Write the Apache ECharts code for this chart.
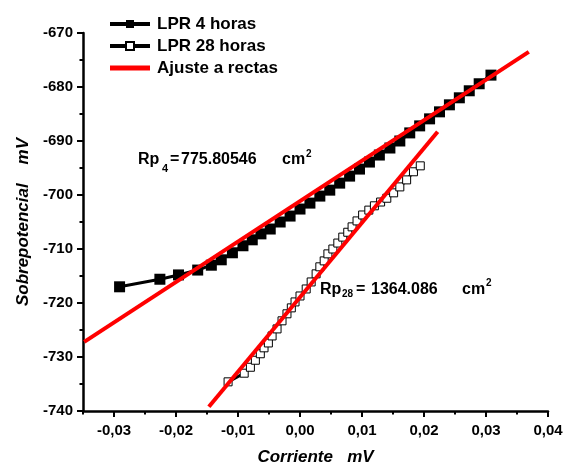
<!DOCTYPE html>
<html>
<head>
<meta charset="utf-8">
<script src="https://cdn.jsdelivr.net/npm/echarts@6/dist/echarts.min.js"></script>
<style>
html,body{margin:0;padding:0;background:#fff;}
#chart{width:567px;height:472px;}
</style>
</head>
<body>
<div id="chart"></div>
<script>
// ---- data ----
const lpr4X = [-0.0291,-0.0226,-0.0196,-0.0165,-0.0143,-0.0127,-0.0109,-0.0092,-0.0077,-0.0063,-0.0048,-0.0032,-0.0016,0.0000,0.0016,0.0032,0.0048,0.0064,0.0080,0.0096,0.0112,0.0128,0.0145,0.0161,0.0177,0.0193,0.0209,0.0225,0.0241,0.0257,0.0273,0.0289,0.0308];
const lpr4Y = [-717.0,-715.6,-714.8,-713.9,-713.0,-712.0,-710.7,-709.4,-708.3,-707.2,-706.3,-705.0,-703.9,-702.6,-701.5,-700.2,-699.1,-697.8,-696.5,-695.2,-693.9,-692.6,-691.3,-690.0,-688.5,-687.2,-685.9,-684.6,-683.3,-682.0,-680.7,-679.4,-677.8];

const lpr28X = [-0.0116,-0.0090,-0.0080,-0.0072,-0.0064,-0.0058,-0.0051,-0.0045,-0.0037,-0.0029,-0.0021,-0.0014,-0.0008,0.0000,0.0010,0.0018,0.0026,0.0032,0.0039,0.0045,0.0053,0.0061,0.0069,0.0077,0.0084,0.0092,0.0101,0.0111,0.0120,0.0130,0.0140,0.0151,0.0161,0.0172,0.0183,0.0194];
const lpr28Y = [-734.6,-733.0,-731.9,-730.6,-729.4,-728.3,-727.4,-726.1,-724.8,-723.3,-722.0,-720.9,-719.8,-718.7,-717.4,-716.1,-714.6,-713.3,-712.2,-710.9,-710.0,-708.9,-707.8,-706.9,-705.9,-704.8,-703.7,-702.8,-702.0,-701.3,-700.6,-699.6,-698.5,-697.2,-695.7,-694.6];

const fit4X = [-0.0348, 0.0369];
const fit4Y = [-727.2, -673.5];
const fit28X = [-0.0147, 0.0222];
const fit28Y = [-739.2, -688.3];

const xMajorTicks = [-0.03,-0.02,-0.01,0,0.01,0.02,0.03,0.04];
const xMinorTicks = [-0.035,-0.025,-0.015,-0.005,0.005,0.015,0.025,0.035];

const seriesNames = ['LPR 4 horas','LPR 28 horas','Ajuste a rectas'];
const xTitle = 'Corriente   mV';
const yTitle = 'Sobrepotencial    mV';

// ---- chart ----
const FONT = '"Liberation Sans", Arial, Helvetica, sans-serif';
const pairs = (xs, ys) => xs.map((x, i) => [x, ys[i]]);
const chart = echarts.init(document.getElementById('chart'), null, {renderer:'canvas'});

const labelStyle = {color:'#000', fontFamily:FONT, fontWeight:'bold', fontSize:15};

function txt(x, y, text, size, extra) {
  return Object.assign({
    type:'text', x:x, y:y, z:100,
    style:{text:text, fill:'#000', font:'bold ' + size + 'px ' + FONT, align:'left', verticalAlign:'middle'}
  }, extra || {});
}

chart.setOption({
  animation:false,
  backgroundColor:'#fff',
  grid:{left:83, right:19, top:33, bottom:61, containLabel:false},
  legend:{
    orient:'vertical', left:103, top:10,
    itemWidth:40, itemHeight:10, itemGap:4,
    lineStyle:{width:4},
    data:[
      {name:seriesNames[0]},
      {name:seriesNames[1]},
      {name:seriesNames[2], icon:'path://M0 0L40 0L40 5L0 5Z', itemStyle:{color:'#ff0000'}}
    ],
    textStyle:{color:'#000', fontFamily:FONT, fontWeight:'bold', fontSize:17, lineHeight:18, padding:[0,0,0,2]}
  },
  xAxis:[{
    type:'value', min:-0.035, max:0.04, position:'bottom',
    name:xTitle, nameLocation:'middle', nameGap:38,
    nameTextStyle:{color:'#000', fontFamily:FONT, fontWeight:'bold', fontStyle:'italic', fontSize:17},
    axisLine:{show:true, onZero:false, lineStyle:{color:'#000', width:2.5}},
    axisTick:{show:true, inside:false, length:6, lineStyle:{color:'#000', width:2}, customValues:xMajorTicks},
    axisLabel:Object.assign({margin:12, customValues:xMajorTicks,
      formatter:v => v.toFixed(2).replace('.', ',')}, labelStyle),
    splitLine:{show:false}
  },{
    type:'value', min:-0.035, max:0.04, position:'bottom',
    axisLine:{show:false, onZero:false},
    axisTick:{show:true, inside:false, length:3.5, lineStyle:{color:'#000', width:2}, customValues:xMinorTicks},
    axisLabel:{show:false},
    splitLine:{show:false}
  }],
  yAxis:{
    type:'value', min:-740, max:-670, interval:10, position:'left',
    name:yTitle, nameLocation:'middle', nameGap:50,
    nameTextStyle:{color:'#000', fontFamily:FONT, fontWeight:'bold', fontStyle:'italic', fontSize:17},
    axisLine:{show:true, onZero:false, lineStyle:{color:'#000', width:2.5}},
    axisTick:{show:true, inside:false, length:6, lineStyle:{color:'#000', width:2}},
    minorTick:{show:true, splitNumber:2, length:3.5, lineStyle:{color:'#000', width:2}},
    axisLabel:Object.assign({margin:10}, labelStyle),
    splitLine:{show:false}
  },
  series:[{
    name:seriesNames[0], type:'line', xAxisIndex:0, z:2,
    data:pairs(lpr4X, lpr4Y),
    symbol:'rect', symbolSize:11,
    lineStyle:{color:'#000', width:3},
    itemStyle:{color:'#000', borderWidth:0}
  },{
    name:seriesNames[1], type:'line', xAxisIndex:0, z:3,
    data:pairs(lpr28X, lpr28Y),
    symbol:'rect', symbolSize:8,
    lineStyle:{color:'#000', width:3},
    itemStyle:{color:'#fff', borderColor:'#000', borderWidth:1}
  },{
    name:seriesNames[2], type:'line', xAxisIndex:0, z:5,
    data:pairs(fit4X, fit4Y),
    symbol:'none', lineStyle:{color:'#ff0000', width:4}, itemStyle:{color:'#ff0000'}
  },{
    name:seriesNames[2], type:'line', xAxisIndex:0, z:5,
    data:pairs(fit28X, fit28Y),
    symbol:'none', lineStyle:{color:'#ff0000', width:4}, itemStyle:{color:'#ff0000'}
  }],
  graphic:[
    txt(138, 160, 'Rp', 16),
    txt(162, 169, '4', 11),
    txt(170, 160, '=', 16),
    txt(181, 160, '775.80546', 16),
    txt(282, 160, 'cm', 16),
    txt(306, 154, '2', 10),
    txt(320, 290, 'Rp', 16),
    txt(342, 294, '28', 10),
    txt(356, 290, '=', 16),
    txt(371, 290, '1364.086', 16),
    txt(462, 290, 'cm', 16),
    txt(486, 283, '2', 10)
  ]
});
</script>
</body>
</html>
